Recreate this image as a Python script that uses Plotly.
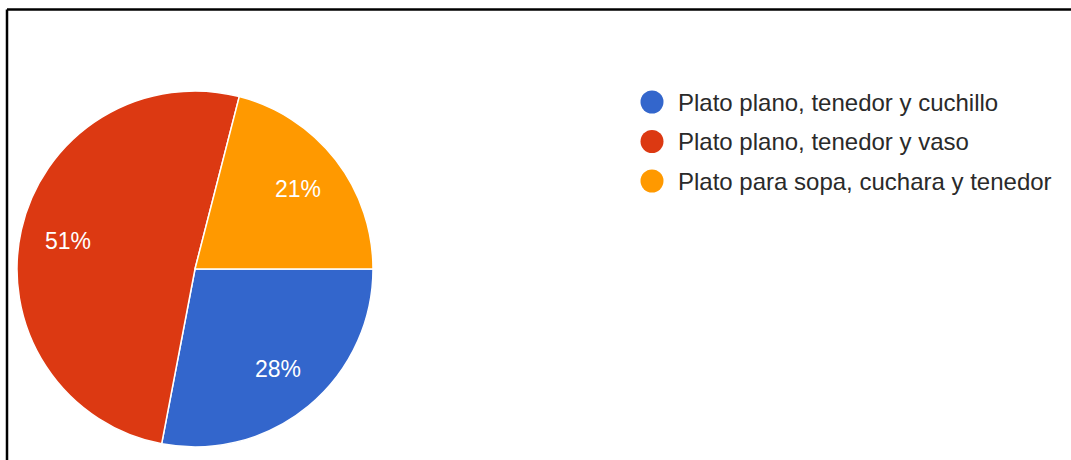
import math
import plotly.graph_objects as go

# Answer shares (percent) for each place setting
categories = [
    "Plato plano, tenedor y cuchillo",
    "Plato plano, tenedor y vaso",
    "Plato para sopa, cuchara y tenedor",
]
shares = [28, 51, 21]
colors = ["#3366cc", "#dc3912", "#ff9900"]

W, H = 1071, 460
FONT = "Arial, Liberation Sans, sans-serif"

# Pie geometry in pixels
cx, cy, R = 195, 269, 178
start_deg = 90  # first slice begins at 3 o'clock, clockwise

fig = go.Figure()

fig.add_trace(go.Pie(
    labels=categories,
    values=shares,
    marker=dict(colors=colors, line=dict(color="white", width=1.5)),
    sort=False,
    direction="clockwise",
    rotation=start_deg,
    textinfo="none",
    hoverinfo="label+percent",
    showlegend=False,
    domain=dict(x=[(cx - R) / W, (cx + R) / W],
                y=[1 - (cy + R) / H, 1 - (cy - R) / H]),
))

# Percent labels placed along each slice's mid-angle
total = sum(shares)
annotations = []
acc = 0
for v in shares:
    mid = start_deg + (acc + v / 2) / total * 360
    acc += v
    a = math.radians(mid)
    x = cx + 0.73 * R * math.sin(a)
    y = cy - 0.73 * R * math.cos(a)
    annotations.append(dict(
        x=x, y=y, xref="x", yref="y", text=f"{round(v / total * 100)}%",
        showarrow=False, xanchor="center", yanchor="middle",
        font=dict(family=FONT, size=23, color="white"),
    ))

# Legend: colored dots with category names
leg_x, leg_y0, leg_dy = 652, 102, 39.5
fig.add_trace(go.Scatter(
    x=[leg_x] * len(categories),
    y=[leg_y0 + i * leg_dy for i in range(len(categories))],
    mode="markers",
    marker=dict(size=23, color=colors, line=dict(width=0)),
    hoverinfo="skip",
    showlegend=False,
))
for i, name in enumerate(categories):
    annotations.append(dict(
        x=leg_x + 24, y=leg_y0 + i * leg_dy, xref="x", yref="y", text=name,
        showarrow=False, xanchor="left", yanchor="middle",
        font=dict(family=FONT, size=24, color="#2a2a2a"),
    ))

# Frame lines along the top and left edges
shapes = [
    dict(type="line", xref="x", yref="y", x0=7, x1=W, y0=9.5, y1=9.5,
         line=dict(color="black", width=2.5)),
    dict(type="line", xref="x", yref="y", x0=7, x1=7, y0=9.5, y1=H,
         line=dict(color="black", width=2.5)),
]

fig.update_layout(
    width=W, height=H,
    margin=dict(l=0, r=0, t=0, b=0),
    paper_bgcolor="white", plot_bgcolor="rgba(0,0,0,0)",
    xaxis=dict(range=[0, W], domain=[0, 1], visible=False, fixedrange=True),
    yaxis=dict(range=[H, 0], domain=[0, 1], visible=False, fixedrange=True),
    annotations=annotations,
    shapes=shapes,
    showlegend=False,
)

fig.write_html("out.html")
